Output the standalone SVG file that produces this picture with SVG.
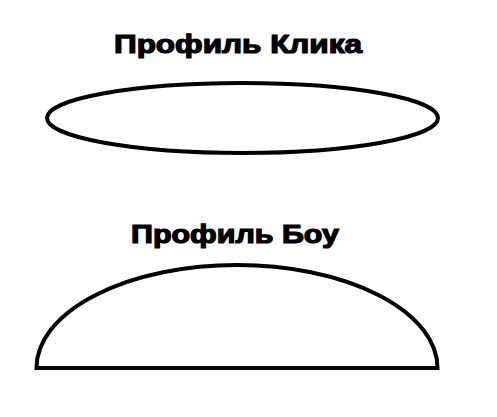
<svg xmlns="http://www.w3.org/2000/svg" width="497" height="417" viewBox="0 0 497 417">
<style>
.t{font-family:"Liberation Sans",Arial,sans-serif;font-weight:bold;font-size:25px;fill:#000;stroke:#000;stroke-width:1.2;text-anchor:middle}
.s{fill:none;stroke:#000;stroke-width:4}
</style>
<rect width="497" height="417" fill="#fff"/>
<g id="click">
<text class="t" x="238" y="53" textLength="248" lengthAdjust="spacingAndGlyphs">Профиль Клика</text>
<ellipse class="s" cx="242.5" cy="118" rx="195.5" ry="35"/>
</g>
<g id="bow">
<text class="t" x="235" y="243" textLength="208" lengthAdjust="spacingAndGlyphs">Профиль Боу</text>
<path class="s" d="M36.5 368 A200.5 103 0 0 1 437.5 368 Z"/>
</g>
</svg>
